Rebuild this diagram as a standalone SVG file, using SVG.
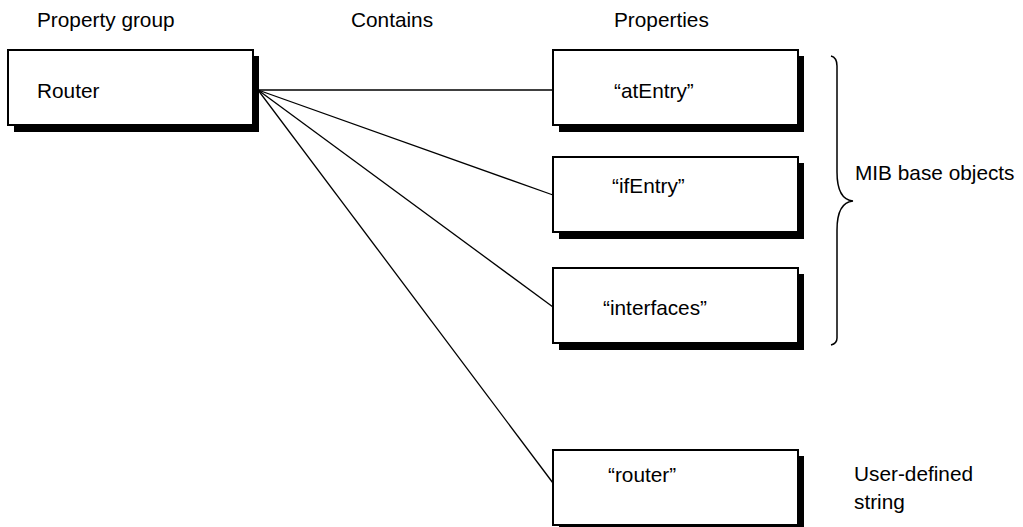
<svg xmlns="http://www.w3.org/2000/svg" width="1023" height="527" viewBox="0 0 1023 527">
<style>
text{font-family:"Liberation Sans",Arial,sans-serif;font-size:20.8px;fill:#000}
.shadow{fill:#000}
.box{fill:#fff;stroke:#000;stroke-width:2}
.conn{stroke:#000;stroke-width:1.3;fill:none}
</style>
<rect width="1023" height="527" fill="#fff"/>
<g id="headers">
<text x="37" y="27">Property group</text>
<text x="351" y="27">Contains</text>
<text x="614" y="27">Properties</text>
</g>
<g id="connectors">
<line class="conn" x1="258" y1="90" x2="553" y2="90"/>
<line class="conn" x1="258" y1="90" x2="553" y2="195"/>
<line class="conn" x1="258" y1="90" x2="553" y2="307"/>
<line class="conn" x1="258" y1="90" x2="553" y2="483"/>
</g>
<g id="node-router-group">
<rect class="shadow" x="14" y="56" width="245" height="76"/>
<rect class="box" x="8" y="50" width="245" height="75"/>
<text x="37" y="98">Router</text>
</g>
<g id="node-atEntry">
<rect class="shadow" x="559" y="56" width="245" height="76"/>
<rect class="box" x="553" y="50" width="245" height="75"/>
<text x="614" y="98">“atEntry”</text>
</g>
<g id="node-ifEntry">
<rect class="shadow" x="559" y="163" width="245" height="76"/>
<rect class="box" x="553" y="157" width="245" height="75"/>
<text x="612" y="193">“ifEntry”</text>
</g>
<g id="node-interfaces">
<rect class="shadow" x="559" y="274" width="245" height="76"/>
<rect class="box" x="553" y="268" width="245" height="75"/>
<text x="603" y="315">“interfaces”</text>
</g>
<g id="node-router">
<rect class="shadow" x="559" y="456" width="245" height="76"/>
<rect class="box" x="553" y="450" width="245" height="75"/>
<text x="608" y="482">“router”</text>
</g>
<g id="brace">
<path d="M831 56 C835 57 837 60 837 66 L837 172 C837 190 842 200 853 201 C842 202 837 212 837 230 L837 338 C837 342 835 344 831 345" fill="none" stroke="#000" stroke-width="1.5"/>
<text x="855" y="180">MIB base objects</text>
</g>
<g id="user-defined-label">
<text x="854" y="481">User-defined</text>
<text x="854" y="509">string</text>
</g>
</svg>
